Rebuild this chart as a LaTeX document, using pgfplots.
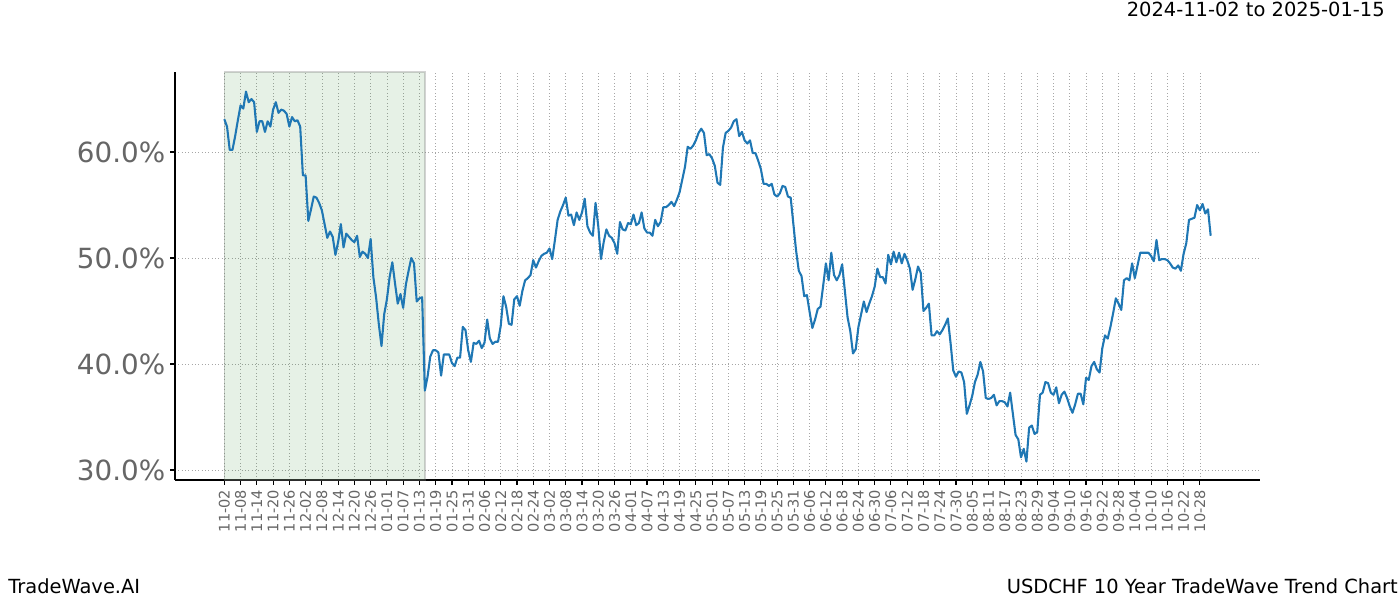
\documentclass[border=0pt]{standalone}
\usepackage{pgfplots}
\pgfplotsset{compat=1.18}
\usepackage{pgfplotstable}
\usepackage{fontspec}
\setmainfont{DejaVu Sans}
\definecolor{mplblue}{HTML}{1F77B4}
\definecolor{ticklab}{HTML}{666666}
\definecolor{spangreen}{HTML}{2E8B2E}
\pgfplotstableread[row sep=\\]{
x y\\
0 63.1\\ 1 62.4\\ 2 60.2\\ 3 60.2\\ 4 61.5\\ 5 63.0\\ 6 64.4\\ 7 64.1\\ 8 65.7\\ 9 64.7\\
10 65.0\\ 11 64.7\\ 12 61.9\\ 13 62.9\\ 14 62.9\\ 15 61.9\\ 16 62.9\\ 17 62.4\\ 18 64.0\\ 19 64.7\\
20 63.7\\ 21 64.0\\ 22 63.9\\ 23 63.6\\ 24 62.4\\ 25 63.3\\ 26 62.9\\ 27 63.0\\ 28 62.4\\ 29 57.8\\
30 57.8\\ 31 53.5\\ 32 54.6\\ 33 55.8\\ 34 55.7\\ 35 55.2\\ 36 54.5\\ 37 53.2\\ 38 51.9\\ 39 52.5\\
40 52.0\\ 41 50.3\\ 42 51.5\\ 43 53.2\\ 44 51.0\\ 45 52.3\\ 46 52.0\\ 47 51.7\\ 48 51.5\\ 49 52.1\\
50 50.1\\ 51 50.6\\ 52 50.4\\ 53 50.0\\ 54 51.8\\ 55 48.2\\ 56 46.3\\ 57 43.8\\ 58 41.7\\ 59 44.7\\
60 46.1\\ 61 48.2\\ 62 49.6\\ 63 47.6\\ 64 45.7\\ 65 46.6\\ 66 45.3\\ 67 47.5\\ 68 48.8\\ 69 50.0\\
70 49.5\\ 71 45.9\\ 72 46.2\\ 73 46.3\\ 74 37.5\\ 75 38.8\\ 76 40.7\\ 77 41.3\\ 78 41.3\\ 79 41.1\\
80 38.9\\ 81 40.9\\ 82 40.9\\ 83 40.9\\ 84 40.1\\ 85 39.8\\ 86 40.6\\ 87 40.6\\ 88 43.5\\ 89 43.2\\
90 41.3\\ 91 40.2\\ 92 42.0\\ 93 41.9\\ 94 42.2\\ 95 41.5\\ 96 42.0\\ 97 44.2\\ 98 42.4\\ 99 41.9\\
100 42.1\\ 101 42.1\\ 102 43.6\\ 103 46.4\\ 104 45.4\\ 105 43.8\\ 106 43.7\\ 107 46.1\\ 108 46.4\\ 109 45.5\\
110 46.9\\ 111 47.9\\ 112 48.1\\ 113 48.4\\ 114 49.8\\ 115 49.1\\ 116 49.7\\ 117 50.2\\ 118 50.4\\ 119 50.5\\
120 50.9\\ 121 49.9\\ 122 51.7\\ 123 53.6\\ 124 54.4\\ 125 55.0\\ 126 55.7\\ 127 54.0\\ 128 54.1\\ 129 53.1\\
130 54.3\\ 131 53.6\\ 132 54.3\\ 133 55.6\\ 134 53.0\\ 135 52.4\\ 136 52.1\\ 137 55.2\\ 138 53.0\\ 139 49.9\\
140 51.5\\ 141 52.7\\ 142 52.1\\ 143 51.9\\ 144 51.4\\ 145 50.4\\ 146 53.4\\ 147 52.7\\ 148 52.6\\ 149 53.3\\
150 53.2\\ 151 54.1\\ 152 53.1\\ 153 53.3\\ 154 54.3\\ 155 52.8\\ 156 52.4\\ 157 52.4\\ 158 52.1\\ 159 53.6\\
160 53.0\\ 161 53.4\\ 162 54.8\\ 163 54.8\\ 164 55.0\\ 165 55.3\\ 166 54.9\\ 167 55.5\\ 168 56.2\\ 169 57.4\\
170 58.6\\ 171 60.5\\ 172 60.3\\ 173 60.6\\ 174 61.1\\ 175 61.8\\ 176 62.2\\ 177 61.8\\ 178 59.7\\ 179 59.8\\
180 59.4\\ 181 58.7\\ 182 57.1\\ 183 56.9\\ 184 60.4\\ 185 61.8\\ 186 62.0\\ 187 62.3\\ 188 62.9\\ 189 63.1\\
190 61.5\\ 191 61.9\\ 192 61.1\\ 193 60.8\\ 194 61.1\\ 195 59.9\\ 196 59.9\\ 197 59.2\\ 198 58.4\\ 199 57.0\\
200 57.0\\ 201 56.8\\ 202 57.0\\ 203 56.0\\ 204 55.8\\ 205 56.1\\ 206 56.8\\ 207 56.7\\ 208 55.8\\ 209 55.7\\
210 53.2\\ 211 50.7\\ 212 48.8\\ 213 48.3\\ 214 46.4\\ 215 46.5\\ 216 44.9\\ 217 43.4\\ 218 44.2\\ 219 45.2\\
220 45.4\\ 221 47.4\\ 222 49.5\\ 223 47.9\\ 224 50.5\\ 225 48.4\\ 226 47.9\\ 227 48.4\\ 228 49.4\\ 229 46.9\\
230 44.4\\ 231 43.1\\ 232 41.0\\ 233 41.4\\ 234 43.5\\ 235 44.7\\ 236 45.9\\ 237 44.9\\ 238 45.7\\ 239 46.4\\
240 47.3\\ 241 49.0\\ 242 48.2\\ 243 48.2\\ 244 47.6\\ 245 50.3\\ 246 49.4\\ 247 50.6\\ 248 49.6\\ 249 50.5\\
250 49.5\\ 251 50.4\\ 252 49.8\\ 253 49.0\\ 254 47.0\\ 255 48.0\\ 256 49.2\\ 257 48.6\\ 258 45.0\\ 259 45.3\\
260 45.7\\ 261 42.7\\ 262 42.7\\ 263 43.1\\ 264 42.8\\ 265 43.2\\ 266 43.7\\ 267 44.3\\ 268 42.0\\ 269 39.4\\
270 38.8\\ 271 39.3\\ 272 39.2\\ 273 38.3\\ 274 35.3\\ 275 36.1\\ 276 37.0\\ 277 38.3\\ 278 39.0\\ 279 40.2\\
280 39.3\\ 281 36.8\\ 282 36.7\\ 283 36.8\\ 284 37.1\\ 285 36.1\\ 286 36.5\\ 287 36.5\\ 288 36.4\\ 289 36.0\\
290 37.3\\ 291 35.3\\ 292 33.3\\ 293 32.9\\ 294 31.2\\ 295 32.0\\ 296 30.8\\ 297 34.0\\ 298 34.2\\ 299 33.4\\
300 33.6\\ 301 37.1\\ 302 37.3\\ 303 38.3\\ 304 38.2\\ 305 37.3\\ 306 37.1\\ 307 37.8\\ 308 36.3\\ 309 37.1\\
310 37.4\\ 311 36.8\\ 312 36.0\\ 313 35.4\\ 314 36.2\\ 315 37.2\\ 316 37.2\\ 317 36.2\\ 318 38.7\\ 319 38.5\\
320 39.8\\ 321 40.2\\ 322 39.5\\ 323 39.2\\ 324 41.5\\ 325 42.7\\ 326 42.4\\ 327 43.5\\ 328 44.8\\ 329 46.2\\
330 45.7\\ 331 45.1\\ 332 47.9\\ 333 48.1\\ 334 47.9\\ 335 49.5\\ 336 48.1\\ 337 49.3\\ 338 50.5\\ 339 50.5\\
340 50.5\\ 341 50.5\\ 342 50.2\\ 343 49.7\\ 344 51.7\\ 345 49.8\\ 346 49.9\\ 347 49.9\\ 348 49.8\\ 349 49.5\\
350 49.1\\ 351 49.0\\ 352 49.3\\ 353 48.8\\ 354 50.4\\ 355 51.4\\ 356 53.6\\ 357 53.7\\ 358 53.8\\ 359 55.0\\
360 54.5\\ 361 55.1\\ 362 54.2\\ 363 54.6\\ 364 52.1\\
}\trend

\begin{document}
\begin{tikzpicture}
\path[use as bounding box] (-126pt,-86.4pt) rectangle (882pt,345.6pt);
\begin{axis}[
  at={(0,0)}, anchor=south west,
  scale only axis, width=781.2pt, height=293.76pt,
  xmin=-18.2, xmax=382.2, ymin=29.06, ymax=67.55,
  axis x line*=bottom, axis y line*=left,
  axis line style={line width=0.8pt, -},
  xtick={0,6,...,360},
  xticklabels={11-02,11-08,11-14,11-20,11-26,12-02,12-08,12-14,12-20,12-26,01-01,01-07,01-13,01-19,01-25,01-31,02-06,02-12,02-18,02-24,03-02,03-08,03-14,03-20,03-26,04-01,04-07,04-13,04-19,04-25,05-01,05-07,05-13,05-19,05-25,05-31,06-06,06-12,06-18,06-24,06-30,07-06,07-12,07-18,07-24,07-30,08-05,08-11,08-17,08-23,08-29,09-04,09-10,09-16,09-22,09-28,10-04,10-10,10-16,10-22,10-28},
  ytick={30,40,50,60},
  yticklabels={30.0\%,40.0\%,50.0\%,60.0\%},
  tick align=outside, major tick length=3.5pt,
  tick style={black, line width=0.8pt},
  xticklabel style={rotate=90, anchor=east, font=\fontsize{10.5}{10.5}\selectfont, text=ticklab},
  yticklabel style={font=\fontsize{20}{20}\selectfont, text=ticklab},
  grid=major, major grid style={dotted, gray!70, line width=0.5pt},
]
\addplot[fill=spangreen, fill opacity=0.12, draw=gray, draw opacity=0.35, line width=1pt] coordinates {(0,29.06) (0,67.55) (74,67.55) (74,29.06)} -- cycle;
\addplot[mplblue, line width=1.5pt, line join=round] table[x=x,y=y] {\trend};
\end{axis}
\node[anchor=base east, inner sep=0pt, font=\fontsize{14}{14}\selectfont] at (871.2pt,333.4pt) {2024-11-02 to 2025-01-15};
\node[anchor=base west, inner sep=0pt, font=\fontsize{14}{14}\selectfont] at (-120.2pt,-81.4pt) {TradeWave.AI};
\node[anchor=base east, inner sep=0pt, font=\fontsize{14}{14}\selectfont] at (880.6pt,-81.4pt) {USDCHF 10 Year TradeWave Trend Chart};
\end{tikzpicture}
\end{document}
